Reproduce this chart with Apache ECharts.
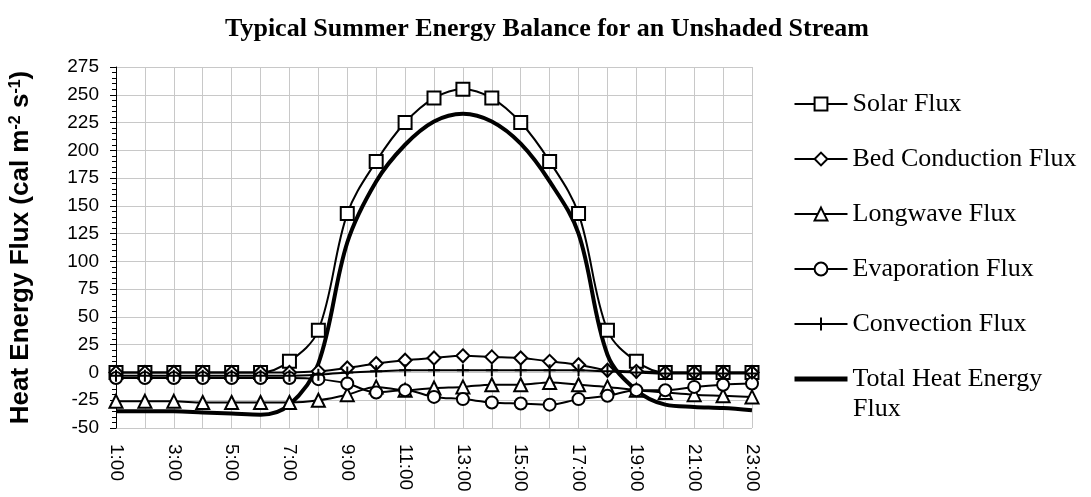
<!DOCTYPE html>
<html>
<head>
<meta charset="utf-8">
<title>Typical Summer Energy Balance</title>
<script src="https://cdn.jsdelivr.net/npm/echarts@6/dist/echarts.min.js"></script>
<style>
  html, body { margin: 0; padding: 0; background: #fff; }
  #chart { width: 1091px; height: 497px; }
</style>
</head>
<body>
<div id="chart"></div>
<script>
// hours of the day
let hours = ['1:00','2:00','3:00','4:00','5:00','6:00','7:00','8:00','9:00','10:00','11:00','12:00',
  '13:00','14:00','15:00','16:00','17:00','18:00','19:00','20:00','21:00','22:00','23:00']
// fluxes, cal m-2 s-1
let solar = [0,0,0,0,0,0,10,38,143,190,225,247,255,247,225,190,143,38,10,0,0,0,0]
let bedConduction = [0,0,0,0,0,0,0,1,4,8,11,13,15,14,13,10,7,2,1,0,0,0,0]
let longwave = [-26,-26,-26,-27,-27,-27,-27,-25,-20,-13,-16,-14,-13,-11,-11,-9,-11,-13,-16,-18,-20,-21,-22]
let evaporation = [-5,-5,-5,-5,-5,-5,-5,-6,-10,-18,-16,-22,-24,-27,-28,-29,-24,-21,-16,-16,-13,-11,-10]
let convection = [-3,-3,-3,-3,-3,-3,-3,-2,0,1,2,2,2,2,2,2,2,1,0,-1,-1,-1,-1]
let totalHeat = [-35,-35,-35,-36,-37,-38,-29,8,117,172,205,226,233,226,206,172,125,16,-16,-29,-31,-32,-34]

let serif = '"Liberation Serif", "Times New Roman", serif'
let sans = '"Liberation Sans", Arial, sans-serif'
let plus = 'path://M6,0 L6,12 M0,6 L12,6'

function markerSeries (name, data, symbol, size) {
  return {
    name: name,
    type: 'line',
    data: data,
    smooth: 0.35,
    symbol: symbol,
    symbolSize: size,
    showAllSymbol: true,
    lineStyle: { color: '#000', width: 2 },
    itemStyle: { color: '#fff', borderColor: '#000', borderWidth: 2 },
    emphasis: { disabled: true }
  }
}

let chart = echarts.init(document.getElementById('chart'))
chart.setOption({
  animation: false,
  backgroundColor: '#fff',
  title: {
    text: 'Typical Summer Energy Balance for an Unshaded Stream',
    left: 542,
    textAlign: 'center',
    top: 11,
    textStyle: { fontFamily: serif, fontSize: 26, fontWeight: 'bold', color: '#000' }
  },
  grid: { left: 115, right: 339, top: 67, bottom: 69 },
  legend: {
    orient: 'vertical',
    left: 792,
    top: 91,
    padding: 0,
    itemWidth: 53,
    itemHeight: 16,
    itemGap: 29,
    selectedMode: false,
    textStyle: { fontFamily: serif, fontSize: 26, color: '#000' },
    data: ['Solar Flux', 'Bed Conduction Flux', 'Longwave Flux', 'Evaporation Flux', 'Convection Flux',
      { name: 'Total Heat Energy Flux', itemStyle: { opacity: 0 }, lineStyle: { width: 5 } }],
    formatter: function (name) {
      return name === 'Total Heat Energy Flux' ? 'Total Heat Energy' : name
    }
  },
  graphic: [{
    // second line of the last legend entry, cut off in the original
    type: 'text',
    left: 853,
    top: 396,
    style: { text: 'Flux', font: '26px ' + serif, fill: '#000' }
  }],
  xAxis: {
    type: 'category',
    data: hours,
    boundaryGap: false,
    axisLine: { show: false },
    axisTick: { show: false },
    axisLabel: {
      interval: 1,
      rotate: -90,
      margin: 16,
      fontFamily: sans,
      fontSize: 19,
      color: '#000'
    },
    splitLine: { show: true, interval: 0, lineStyle: { color: '#c8c8c8', width: 1 } }
  },
  yAxis: {
    type: 'value',
    min: -50,
    max: 275,
    interval: 25,
    name: 'Heat Energy Flux (cal m{sup|-2} s{sup|-1})',
    nameLocation: 'middle',
    nameGap: 82,
    nameTextStyle: {
      fontFamily: sans,
      fontSize: 26,
      fontWeight: 'bold',
      color: '#000',
      rich: {
        sup: { fontFamily: sans, fontSize: 16, fontWeight: 'bold', color: '#000', verticalAlign: 'top', lineHeight: 16, padding: [0, 0, 10, 0] }
      }
    },
    axisLine: { show: true, lineStyle: { color: '#000', width: 1 } },
    axisTick: { show: true, length: 6, lineStyle: { color: '#000' } },
    minorTick: { show: true, splitNumber: 5, length: 4, lineStyle: { color: '#000' } },
    axisLabel: { fontFamily: sans, fontSize: 19, color: '#000', margin: 17 },
    splitLine: { show: true, lineStyle: { color: '#c8c8c8', width: 1 } }
  },
  series: [
    markerSeries('Solar Flux', solar, 'rect', 13),
    markerSeries('Bed Conduction Flux', bedConduction, 'diamond', 13),
    markerSeries('Longwave Flux', longwave, 'triangle', 13),
    markerSeries('Evaporation Flux', evaporation, 'circle', 12),
    markerSeries('Convection Flux', convection, plus, 12),
    {
      name: 'Total Heat Energy Flux',
      type: 'line',
      data: totalHeat,
      smooth: 0.35,
      symbol: 'none',
      lineStyle: { color: '#000', width: 4 },
      itemStyle: { color: '#000' },
      emphasis: { disabled: true }
    }
  ]
})
</script>
</body>
</html>
